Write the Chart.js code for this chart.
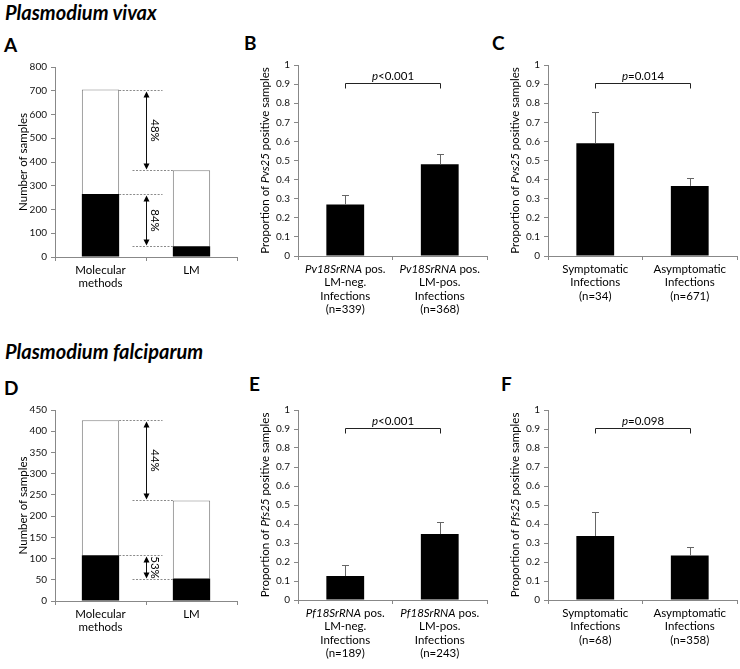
<!DOCTYPE html>
<html>
<head>
<meta charset="utf-8">
<script src="https://cdn.jsdelivr.net/npm/chart.js@4.4.1/dist/chart.umd.min.js"></script>
<style>
  body { margin: 0; background: #fff; }
  #wrap { position: relative; width: 740px; height: 669px; font-family: Lato, sans-serif; color: #000; }
  canvas { position: absolute; }
  .species { position: absolute; font-size: 20px; font-weight: bold; font-style: italic; line-height: 1; white-space: nowrap; }
  .letter { position: absolute; font-size: 19px; font-weight: bold; line-height: 1; }
</style>
</head>
<body>
<div id="wrap">
  <div class="species" style="left:5px; top:2px;">Plasmodium vivax</div>
  <div class="letter" style="left:4px; top:35px;">A</div>
  <div class="letter" style="left:244px; top:33px;">B</div>
  <div class="letter" style="left:492px; top:33px;">C</div>
  <div class="species" style="left:5px; top:341px;">Plasmodium falciparum</div>
  <div class="letter" style="left:4px; top:378px;">D</div>
  <div class="letter" style="left:249px; top:374px;">E</div>
  <div class="letter" style="left:501px; top:374px;">F</div>

  <canvas id="chartA" width="245" height="270" style="left:0; top:55px;"></canvas>
  <canvas id="chartB" width="245" height="270" style="left:245px; top:55px;"></canvas>
  <canvas id="chartC" width="245" height="270" style="left:495px; top:55px;"></canvas>
  <canvas id="chartD" width="245" height="270" style="left:0; top:395px;"></canvas>
  <canvas id="chartE" width="245" height="270" style="left:245px; top:395px;"></canvas>
  <canvas id="chartF" width="245" height="270" style="left:495px; top:395px;"></canvas>
</div>

<script>
// ---- data ----
// text between * * is drawn in italics
const countCategories = [['Molecular', 'methods'], ['LM']];

const vivaxPositive = [265, 45];
const vivaxTotal = [705, 365];
const vivaxPercent = ['48%', '84%'];

const falciparumPositive = [108, 53];
const falciparumTotal = [426, 237];
const falciparumPercent = ['44%', '53%'];

const vivaxLmCategories = [
  ['*Pv18SrRNA* pos.', 'LM-neg.', 'Infections', '(n=339)'],
  ['*Pv18SrRNA* pos.', 'LM-pos.', 'Infections', '(n=368)']
];
const vivaxLmProportion = [0.27, 0.48];
const vivaxLmError = [0.049, 0.052];
const vivaxLmP = '*p*<0.001';

const vivaxSymCategories = [
  ['Symptomatic', 'Infections', '(n=34)'],
  ['Asymptomatic', 'Infections', '(n=671)']
];
const vivaxSymProportion = [0.59, 0.367];
const vivaxSymError = [0.163, 0.04];
const vivaxSymP = '*p*=0.014';

const falciparumLmCategories = [
  ['*Pf18SrRNA* pos.', 'LM-neg.', 'Infections', '(n=189)'],
  ['*Pf18SrRNA* pos.', 'LM-pos.', 'Infections', '(n=243)']
];
const falciparumLmProportion = [0.126, 0.347];
const falciparumLmError = [0.057, 0.063];
const falciparumLmP = '*p*<0.001';

const falciparumSymCategories = [
  ['Symptomatic', 'Infections', '(n=68)'],
  ['Asymptomatic', 'Infections', '(n=358)']
];
const falciparumSymProportion = [0.337, 0.234];
const falciparumSymError = [0.124, 0.046];
const falciparumSymP = '*p*=0.098';

// ---- drawing helpers ----
const FONT = 'Lato, sans-serif';

// draws text centred on x, parts between * in italics
function drawRich(ctx, text, x, y, size) {
  const parts = text.split('*');
  let total = 0;
  const widths = parts.map((p, i) => {
    ctx.font = (i % 2 ? 'italic ' : '') + size + 'px ' + FONT;
    const w = ctx.measureText(p).width;
    total += w;
    return w;
  });
  let cx = x - total / 2;
  ctx.textAlign = 'left';
  parts.forEach((p, i) => {
    ctx.font = (i % 2 ? 'italic ' : '') + size + 'px ' + FONT;
    ctx.fillText(p, cx, y);
    cx += widths[i];
  });
}

function arrowHead(ctx, x, y, dir) {
  ctx.beginPath();
  ctx.moveTo(x, y);
  ctx.lineTo(x - 3, y + dir * 6);
  ctx.lineTo(x + 3, y + dir * 6);
  ctx.closePath();
  ctx.fill();
}

const extras = {
  id: 'extras',
  afterDraw(chart, args, opts) {
    const ctx = chart.ctx;
    const area = chart.chartArea;
    const xs = chart.scales.x, ys = chart.scales.y;
    ctx.save();
    ctx.fillStyle = '#000';

    // y axis title
    ctx.save();
    ctx.translate(opts.titleX, (area.top + area.bottom) / 2);
    ctx.rotate(-Math.PI / 2);
    ctx.textBaseline = 'middle';
    drawRich(ctx, opts.yTitle, 0, 0, 11.5);
    ctx.restore();

    // category labels
    ctx.textBaseline = 'middle';
    opts.xLabels.forEach((lines, i) => {
      const cx = xs.getPixelForValue(i);
      lines.forEach((line, j) => drawRich(ctx, line, cx, area.bottom + 13 + j * 13.5, 11.5));
    });

    const meta = chart.getDatasetMeta(0);

    // error bars
    if (opts.errors) {
      const values = chart.data.datasets[0].data;
      ctx.strokeStyle = '#666';
      ctx.lineWidth = 1;
      opts.errors.forEach((e, i) => {
        const bx = Math.round(meta.data[i].x) + 0.5;
        const y0 = ys.getPixelForValue(values[i]);
        const y1 = Math.round(ys.getPixelForValue(values[i] + e)) + 0.5;
        ctx.beginPath();
        ctx.moveTo(bx, y0);
        ctx.lineTo(bx, y1);
        ctx.moveTo(bx - 3.5, y1);
        ctx.lineTo(bx + 3.5, y1);
        ctx.stroke();
      });
    }

    // significance bracket
    if (opts.pValue) {
      const by = Math.round(ys.getPixelForValue(opts.bracketAt)) + 0.5;
      const x0 = Math.round(meta.data[0].x) + 0.5;
      const x1 = Math.round(meta.data[1].x) + 0.5;
      ctx.strokeStyle = '#222';
      ctx.beginPath();
      ctx.moveTo(x0, by + 5);
      ctx.lineTo(x0, by);
      ctx.lineTo(x1, by);
      ctx.lineTo(x1, by + 5);
      ctx.stroke();
      ctx.textBaseline = 'alphabetic';
      drawRich(ctx, opts.pValue, (x0 + x1) / 2, by - 4, 11.5);
    }

    // dashed guides with double arrows (count panels)
    if (opts.totals) {
      const meta1 = chart.getDatasetMeta(1);
      const r0 = meta1.data[0].x + meta1.data[0].width / 2;
      const l1 = meta1.data[1].x - meta1.data[1].width / 2;
      const ax = Math.round((r0 + l1) / 2) + 0.5;
      const pairs = [
        [opts.totals[0], opts.totals[1], opts.percents[0]],
        [opts.positives[0], opts.positives[1], opts.percents[1]]
      ];
      pairs.forEach(([hi, lo, label]) => {
        const yh = Math.round(ys.getPixelForValue(hi)) + 0.5;
        const yl = Math.round(ys.getPixelForValue(lo)) + 0.5;
        ctx.strokeStyle = '#8a8a8a';
        ctx.setLineDash([2, 1.5]);
        ctx.beginPath();
        ctx.moveTo(r0, yh);
        ctx.lineTo(ax + 16, yh);
        ctx.moveTo(ax - 14, yl);
        ctx.lineTo(l1, yl);
        ctx.stroke();
        ctx.setLineDash([]);
        ctx.strokeStyle = '#111';
        ctx.beginPath();
        ctx.moveTo(ax, yh + 3);
        ctx.lineTo(ax, yl - 3);
        ctx.stroke();
        arrowHead(ctx, ax, yh + 1, 1);
        arrowHead(ctx, ax, yl - 1, -1);
        ctx.save();
        ctx.translate(ax + 8, (yh + yl) / 2);
        ctx.rotate(Math.PI / 2);
        ctx.textAlign = 'center';
        ctx.textBaseline = 'middle';
        ctx.font = '11.5px ' + FONT;
        ctx.fillText(label, 0, 0);
        ctx.restore();
      });
    }
    ctx.restore();
  }
};

function axes(max, step, stacked, yWidth, xHeight) {
  return {
    x: {
      stacked: stacked,
      grid: { offset: true, drawOnChartArea: false, tickLength: 4, color: '#888' },
      border: { color: '#888' },
      ticks: { display: false },
      afterFit: s => { s.height = xHeight; }
    },
    y: {
      stacked: stacked,
      min: 0,
      max: max,
      ticks: {
        stepSize: step, font: { family: FONT, size: 10 }, color: '#111', padding: 4,
        callback: v => String(Math.round(v * 10) / 10)
      },
      grid: { drawOnChartArea: false, tickLength: 4, color: '#888' },
      border: { color: '#888' },
      afterFit: s => { s.width = yWidth; }
    }
  };
}

function countChart(id, positive, total, percents, max, step, padding, xHeight) {
  const negative = total.map((t, i) => t - positive[i]);
  new Chart(document.getElementById(id), {
    type: 'bar',
    data: {
      labels: countCategories.map(c => c.join(' ')),
      datasets: [
        { data: positive, backgroundColor: '#000', borderWidth: 0, barPercentage: 0.41, categoryPercentage: 1 },
        { data: negative, backgroundColor: '#fff', borderColor: '#808080', borderWidth: 1, barPercentage: 0.41, categoryPercentage: 1 }
      ]
    },
    options: {
      responsive: false,
      animation: false,
      layout: { padding: padding },
      scales: axes(max, step, true, 55, xHeight),
      plugins: {
        legend: { display: false },
        tooltip: { enabled: false },
        extras: {
          yTitle: 'Number of samples', titleX: 23, xLabels: countCategories,
          totals: total, positives: positive, percents: percents
        }
      }
    },
    plugins: [extras]
  });
}

function proportionChart(id, categories, values, errors, pValue, gene, padding, xHeight) {
  new Chart(document.getElementById(id), {
    type: 'bar',
    data: {
      labels: categories.map(c => c.join(' ')),
      datasets: [{ data: values, backgroundColor: '#000', borderWidth: 0, barPercentage: 0.4, categoryPercentage: 1 }]
    },
    options: {
      responsive: false,
      animation: false,
      layout: { padding: padding },
      scales: axes(1, 0.1, false, 53, xHeight),
      plugins: {
        legend: { display: false },
        tooltip: { enabled: false },
        extras: {
          yTitle: 'Proportion of *' + gene + '* positive samples', titleX: 20,
          xLabels: categories, errors: errors, pValue: pValue, bracketAt: 0.905
        }
      }
    },
    plugins: [extras]
  });
}

countChart('chartA', vivaxPositive, vivaxTotal, vivaxPercent, 800, 100, { top: 12, right: 8, left: 0, bottom: 0 }, 68);
proportionChart('chartB', vivaxLmCategories, vivaxLmProportion, vivaxLmError, vivaxLmP, 'Pvs25', { top: 10, right: 3, left: 0, bottom: 0 }, 69);
proportionChart('chartC', vivaxSymCategories, vivaxSymProportion, vivaxSymError, vivaxSymP, 'Pvs25', { top: 10, right: 3, left: 0, bottom: 0 }, 69);
countChart('chartD', falciparumPositive, falciparumTotal, falciparumPercent, 450, 50, { top: 15, right: 8, left: 0, bottom: 0 }, 64);
proportionChart('chartE', falciparumLmCategories, falciparumLmProportion, falciparumLmError, falciparumLmP, 'Pfs25', { top: 15, right: 3, left: 0, bottom: 0 }, 65);
proportionChart('chartF', falciparumSymCategories, falciparumSymProportion, falciparumSymError, falciparumSymP, 'Pfs25', { top: 15, right: 3, left: 0, bottom: 0 }, 65);
</script>
</body>
</html>
